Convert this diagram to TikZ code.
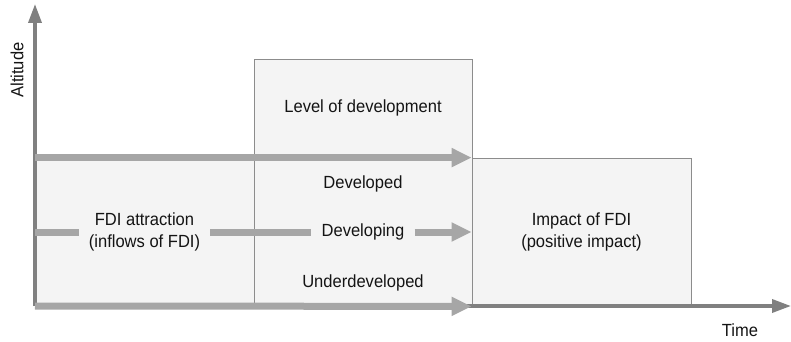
\documentclass[tikz,border=0pt]{standalone}
\usepackage{fontspec}
\setmainfont{Liberation Sans}[FakeStretch=0.94]
\usepackage{xcolor}
\usetikzlibrary{arrows.meta}

\definecolor{boxfill}{HTML}{F4F4F4}
\definecolor{boxline}{HTML}{8C8C8C}
\definecolor{flowgray}{HTML}{A6A6A6}
\definecolor{axisgray}{HTML}{808080}
\definecolor{txt}{HTML}{141414}

\begin{document}
\begin{tikzpicture}[x=1pt, y=-1pt,
     box/.style={draw=boxline, fill=boxfill, line width=0.8pt, inner sep=0pt},
     lbl/.style={text=txt, font=\fontsize{17.6}{21.5}\selectfont, align=center, inner xsep=10pt, inner ysep=2pt},
     flow/.style={draw=flowgray, line width=7pt},
     flowtip/.style={flow, -{Triangle[length=20pt, width=18pt]}},
     axis/.style={draw=axisgray, line width=3.5pt, -{Triangle[length=19pt, width=13pt]}}]
     \useasboundingbox (0,0) rectangle (791,342);

     \coordinate (O) at (35,306);
     \coordinate (ytop) at (35,4);
     \coordinate (xend) at (791,306);

     \node[box, minimum width=219pt, minimum height=148pt] (attrbox) at (144.5,232) {};
     \node[box, minimum width=218pt, minimum height=247pt] (levbox) at (363,182.5) {};
     \node[box, lbl, inner sep=0pt, minimum width=219pt, minimum height=148pt] (impact) at (581.5,232) {Impact of FDI\\(positive impact)};

     \node[lbl] (attr) at (attrbox.center) {FDI attraction\\(inflows of FDI)};
     \node[lbl] (lev) at (363,108) {Level of development};
     \node[lbl] (devd) at (363,184) {Developed};
     \node[lbl] (devg) at (attrbox.center -| levbox.center) {Developing};
     \node[lbl] (under) at (363,283) {Underdeveloped};

     \draw[axis] (O) -- (ytop);
     \draw[axis] (O) -- (xend);
     \node[lbl, rotate=90] (alt) at (17,70) {Altitude};
     \node[lbl] (time) at (740,330) {Time};

     \draw[flowtip] (O |- impact.north west) -- (impact.north west);
     \draw[flow] (O |- impact.west) -- (attr.west);
     \draw[flow] (attr.east) -- (devg.west);
     \draw[flowtip] (devg.east) -- (impact.west);
     \draw[flowtip] (O) -- (impact.south west);
 \end{tikzpicture}
\end{document}
